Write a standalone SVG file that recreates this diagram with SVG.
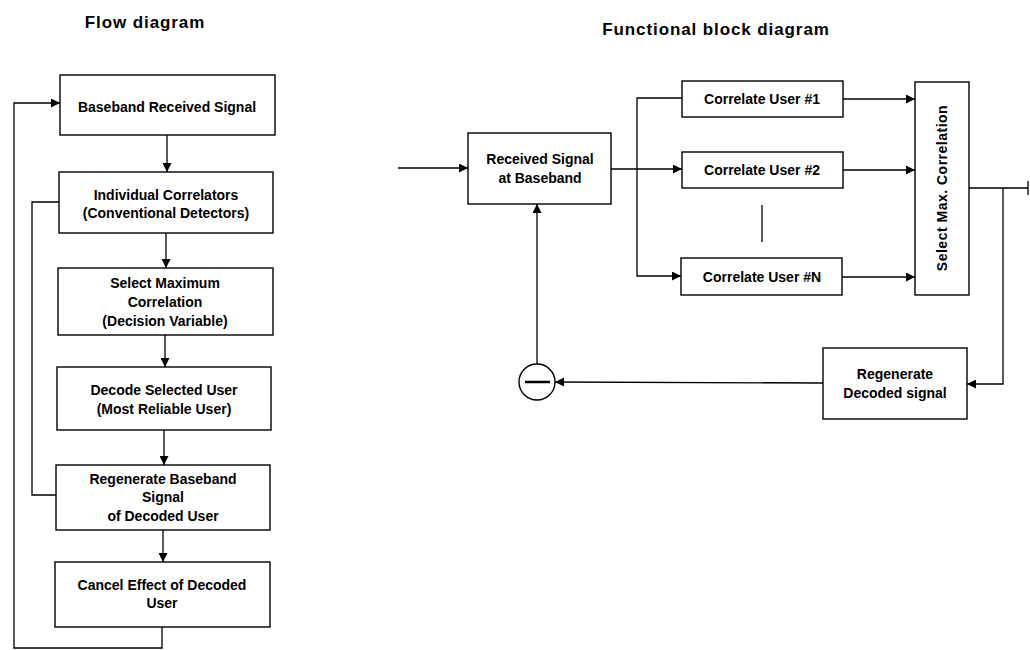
<svg xmlns="http://www.w3.org/2000/svg" width="1030" height="650" viewBox="0 0 1030 650">
<defs>
<marker id="ah" viewBox="0 0 10 10" refX="10" refY="5" markerWidth="9" markerHeight="9" markerUnits="userSpaceOnUse" orient="auto">
<path d="M0,0 L10,5 L0,10 Z" fill="#000"/>
</marker>
</defs>
<style>
.box{fill:#fff;stroke:#000;stroke-width:1.4}
.ln{fill:none;stroke:#000;stroke-width:1.3}
.t{font-family:"Liberation Sans",Arial,sans-serif;font-weight:bold;font-size:14px;text-anchor:middle;fill:#000}
.title{font-family:"Liberation Sans",Arial,sans-serif;font-weight:bold;font-size:17px;letter-spacing:0.9px;text-anchor:middle;fill:#000}
</style>
<rect width="1030" height="650" fill="#fff"/>
<text class="title" x="145" y="28">Flow diagram</text>
<text class="title" x="716" y="35">Functional block diagram</text>

<g id="connectors">
<line class="ln" x1="167" y1="135" x2="167" y2="172" marker-end="url(#ah)"/>
<line class="ln" x1="166" y1="233" x2="166" y2="268" marker-end="url(#ah)"/>
<line class="ln" x1="165" y1="335" x2="165" y2="367" marker-end="url(#ah)"/>
<line class="ln" x1="164" y1="430" x2="164" y2="465" marker-end="url(#ah)"/>
<line class="ln" x1="163" y1="530" x2="163" y2="562" marker-end="url(#ah)"/>
<polyline class="ln" points="59,202 32,202 32,495 56,495"/>
<polyline class="ln" points="162,627 162,648 14,648 14,103 60,103" marker-end="url(#ah)"/>

<line class="ln" x1="398" y1="168" x2="468" y2="168" marker-end="url(#ah)"/>
<line class="ln" x1="611" y1="169" x2="682" y2="169" marker-end="url(#ah)"/>
<polyline class="ln" points="682,98 637,98 637,276 681,276" marker-end="url(#ah)"/>
<line class="ln" x1="843" y1="99" x2="915" y2="99" marker-end="url(#ah)"/>
<line class="ln" x1="843" y1="170" x2="915" y2="170" marker-end="url(#ah)"/>
<line class="ln" x1="842" y1="277" x2="915" y2="277" marker-end="url(#ah)"/>
<line class="ln" x1="762" y1="205" x2="762" y2="242"/>
<line class="ln" x1="969" y1="188" x2="1028" y2="188"/>
<line class="ln" x1="1028" y1="181" x2="1028" y2="195"/>
<polyline class="ln" points="1003,188 1003,384 967,384" marker-end="url(#ah)"/>
<line class="ln" x1="823" y1="383" x2="555" y2="382" marker-end="url(#ah)"/>
<line class="ln" x1="537" y1="364" x2="537" y2="204" marker-end="url(#ah)"/>
</g>

<g id="n1"><rect class="box" x="60" y="75" width="215" height="60"/>
<text class="t" x="167" y="112">Baseband Received Signal</text></g>
<g id="n2"><rect class="box" x="59" y="172" width="214" height="61"/>
<text class="t" x="166" y="200">Individual Correlators</text>
<text class="t" x="166" y="218">(Conventional Detectors)</text></g>
<g id="n3"><rect class="box" x="58" y="268" width="215" height="67"/>
<text class="t" x="165" y="288">Select Maximum</text>
<text class="t" x="165" y="307">Correlation</text>
<text class="t" x="165" y="326">(Decision Variable)</text></g>
<g id="n4"><rect class="box" x="57" y="367" width="214" height="63"/>
<text class="t" x="164" y="395">Decode Selected User</text>
<text class="t" x="164" y="414">(Most Reliable User)</text></g>
<g id="n5"><rect class="box" x="56" y="465" width="214" height="65"/>
<text class="t" x="163" y="484">Regenerate Baseband</text>
<text class="t" x="163" y="502">Signal</text>
<text class="t" x="163" y="521">of Decoded User</text></g>
<g id="n6"><rect class="box" x="55" y="562" width="215" height="65"/>
<text class="t" x="162" y="590">Cancel Effect of Decoded</text>
<text class="t" x="162" y="608">User</text></g>

<g id="recv"><rect class="box" x="468" y="133" width="143" height="71"/>
<text class="t" x="540" y="164">Received Signal</text>
<text class="t" x="540" y="183">at Baseband</text></g>
<g id="c1"><rect class="box" x="682" y="81" width="161" height="36"/>
<text class="t" x="762" y="104">Correlate User #1</text></g>
<g id="c2"><rect class="box" x="682" y="152" width="161" height="36"/>
<text class="t" x="762" y="175">Correlate User #2</text></g>
<g id="cN"><rect class="box" x="681" y="258" width="161" height="37"/>
<text class="t" x="762" y="282">Correlate User #N</text></g>
<g id="sel"><rect class="box" x="915" y="82" width="54" height="213"/>
<text class="t" style="letter-spacing:0.5px" transform="translate(947,188) rotate(-90)">Select Max. Correlation</text></g>
<g id="regen"><rect class="box" x="823" y="348" width="144" height="71"/>
<text class="t" x="895" y="379">Regenerate</text>
<text class="t" x="895" y="398">Decoded signal</text></g>
<g id="sum"><circle cx="537" cy="382" r="18" fill="#fff" stroke="#000" stroke-width="1.4"/>
<line x1="525" y1="382" x2="550" y2="382" stroke="#000" stroke-width="2.5"/></g>
</svg>
